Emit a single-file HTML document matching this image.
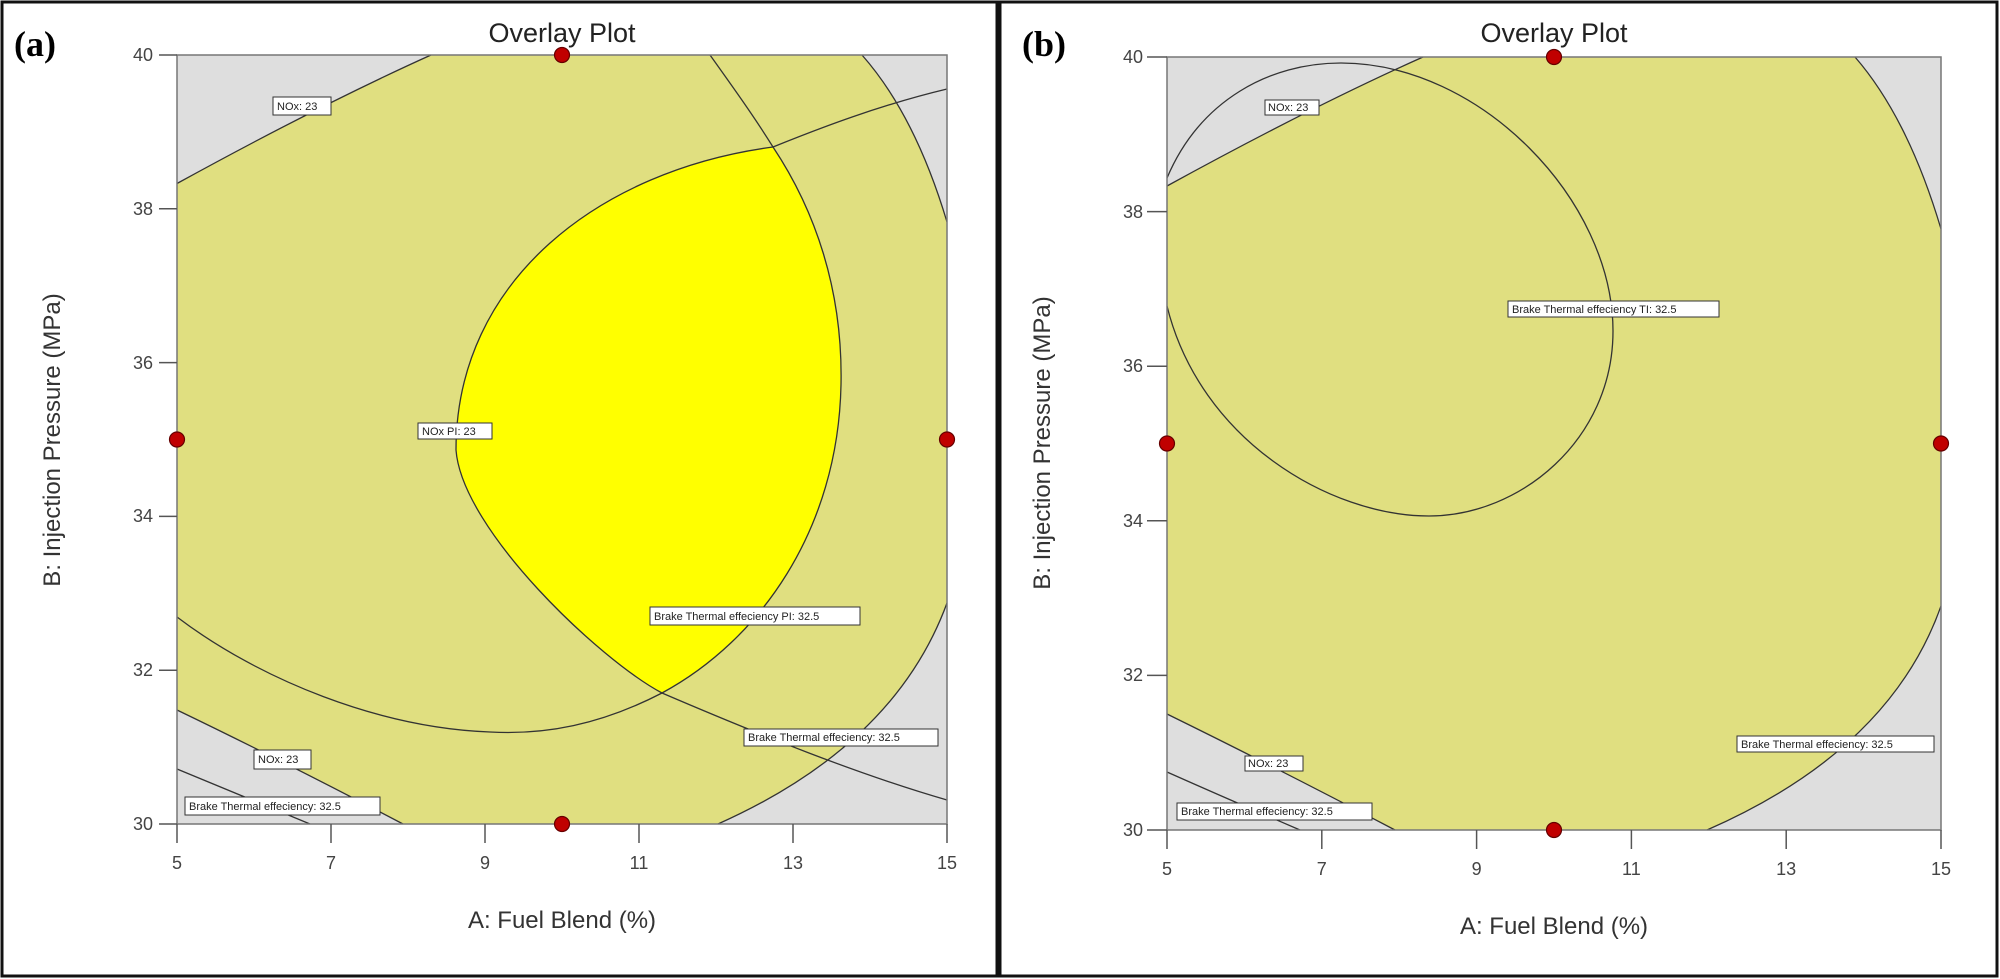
<!DOCTYPE html>
<html><head><meta charset="utf-8"><style>
html,body{margin:0;padding:0;background:#fff;}
svg{display:block;}
text{font-family:"Liberation Sans",sans-serif;}
.tk{font-size:18px;fill:#444;}
.lb{font-size:11px;fill:#222;}
.lbox{fill:#fff;stroke:#333;stroke-width:1;}
.cv{fill:none;stroke:#333;stroke-width:1.3;}
</style></head><body>
<svg width="2000" height="979" viewBox="0 0 2000 979" xmlns="http://www.w3.org/2000/svg">
<rect x="0" y="0" width="2000" height="979" fill="#fff"/>
<!-- frames -->
<rect x="2" y="2" width="995" height="974" fill="none" stroke="#111" stroke-width="3"/>
<rect x="1000" y="2" width="997" height="974" fill="none" stroke="#111" stroke-width="3"/>

<!-- ===== Panel A ===== -->
<text x="14" y="56" font-family="Liberation Serif,serif" font-weight="bold" font-size="36" style="font-family:'Liberation Serif',serif">(a)</text>
<text x="562" y="42" text-anchor="middle" font-size="27" fill="#222">Overlay Plot</text>
<rect x="177" y="55" width="770" height="769" fill="#e0df80"/>
<path d="M177,55 L431,55 Q320,105 177,183.5 Z" fill="#dedede"/>
<path d="M862,55 L947,55 L947,222 Q915,115 862,55 Z" fill="#dedede"/>
<path d="M947,603 L947,824 L718,824 Q895,745 947,603 Z" fill="#dedede"/>
<path d="M177,710 Q285,762 403,824 L177,824 Z" fill="#dedede"/>
<path d="M773,147 C600,170 456,280 456,450 C462,530 600,660 662,693 C760,640 838,530 841,385 C843,290 815,210 773,147 Z" fill="#ffff00"/>
<path class="cv" d="M431,55 Q320,105 177,183.5"/>
<path class="cv" d="M862,55 Q915,115 947,222"/>
<path class="cv" d="M947,603 Q895,745 718,824"/>
<path class="cv" d="M177,710 Q285,762 403,824"/>
<path class="cv" d="M177,769 Q240,795 310,824"/>
<path class="cv" d="M947,89 C880,105 820,128 773,147 C600,170 456,280 456,450 C462,530 600,660 662,693 C760,735 860,775 947,800"/>
<path class="cv" d="M710,55 C735,90 755,118 773,147 C815,210 843,290 841,385 C838,530 760,640 662,693 C600,725 545,735 490,732 C380,728 260,680 177,617"/>
<rect x="177" y="55" width="770" height="769" fill="none" stroke="#777" stroke-width="1.5"/>
<!-- ticks A -->
<g stroke="#555" stroke-width="1.5">
<line x1="159" y1="55" x2="177" y2="55"/><line x1="159" y1="208.8" x2="177" y2="208.8"/><line x1="159" y1="362.6" x2="177" y2="362.6"/><line x1="159" y1="516.4" x2="177" y2="516.4"/><line x1="159" y1="670.2" x2="177" y2="670.2"/><line x1="159" y1="824" x2="177" y2="824"/>
<line x1="177" y1="824" x2="177" y2="843"/><line x1="331" y1="824" x2="331" y2="843"/><line x1="485" y1="824" x2="485" y2="843"/><line x1="639" y1="824" x2="639" y2="843"/><line x1="793" y1="824" x2="793" y2="843"/><line x1="947" y1="824" x2="947" y2="843"/>
</g>
<g class="tk" text-anchor="end">
<text x="153" y="61">40</text><text x="153" y="215">38</text><text x="153" y="369">36</text><text x="153" y="522">34</text><text x="153" y="676">32</text><text x="153" y="830">30</text>
</g>
<g class="tk" text-anchor="middle">
<text x="177" y="869">5</text><text x="331" y="869">7</text><text x="485" y="869">9</text><text x="639" y="869">11</text><text x="793" y="869">13</text><text x="947" y="869">15</text>
</g>
<text x="562" y="928" text-anchor="middle" font-size="24" fill="#333">A: Fuel Blend (%)</text>
<text transform="translate(60,440) rotate(-90)" text-anchor="middle" font-size="24" fill="#333">B: Injection Pressure (MPa)</text>
<!-- labels A -->
<rect class="lbox" x="273" y="97" width="58" height="18"/><text class="lb" x="277" y="110">NOx: 23</text>
<rect class="lbox" x="418" y="423" width="74" height="16"/><text class="lb" x="422" y="435">NOx PI: 23</text>
<rect class="lbox" x="650" y="607" width="210" height="18"/><text class="lb" x="654" y="620">Brake Thermal effeciency PI: 32.5</text>
<rect class="lbox" x="744" y="729" width="194" height="17"/><text class="lb" x="748" y="741">Brake Thermal effeciency: 32.5</text>
<rect class="lbox" x="254" y="750" width="57" height="19"/><text class="lb" x="258" y="763">NOx: 23</text>
<rect class="lbox" x="185" y="797" width="195" height="18"/><text class="lb" x="189" y="810">Brake Thermal effeciency: 32.5</text>
<!-- dots A -->
<g fill="#c00000" stroke="#600" stroke-width="1.2">
<circle cx="562" cy="55" r="7.5"/><circle cx="177" cy="439.5" r="7.5"/><circle cx="562" cy="824" r="7.5"/><circle cx="947" cy="439.5" r="7.5"/>
</g>

<!-- ===== Panel B ===== -->
<text x="1022" y="56" font-weight="bold" font-size="36" style="font-family:'Liberation Serif',serif">(b)</text>
<text x="1554" y="42" text-anchor="middle" font-size="27" fill="#222">Overlay Plot</text>
<rect x="1167" y="57" width="774" height="773" fill="#e0df80"/>
<path d="M1167,57 L1423,57 Q1311,107 1167,186 Z" fill="#dedede"/>
<path d="M1855,57 L1941,57 L1941,229 Q1908,118 1855,57 Z" fill="#dedede"/>
<path d="M1941,606 L1941,830 L1707,830 Q1890,750 1941,606 Z" fill="#dedede"/>
<path d="M1167,714 Q1277,768 1395,830 L1167,830 Z" fill="#dedede"/>
<path class="cv" d="M1423,57 Q1311,107 1167,186"/>
<path class="cv" d="M1855,57 Q1908,118 1941,229"/>
<path class="cv" d="M1941,606 Q1890,750 1707,830"/>
<path class="cv" d="M1167,714 Q1277,768 1395,830"/>
<path class="cv" d="M1167,772 Q1230,800 1300,830"/>
<path class="cv" d="M1167,178 C1200,100 1270,63 1341,63 C1480,63 1613,200 1613,331 C1613,440 1520,516 1429,516 C1330,516 1200,440 1167,306"/>
<rect x="1167" y="57" width="774" height="773" fill="none" stroke="#777" stroke-width="1.5"/>
<g stroke="#555" stroke-width="1.5">
<line x1="1147" y1="57" x2="1167" y2="57"/><line x1="1147" y1="211.6" x2="1167" y2="211.6"/><line x1="1147" y1="366.2" x2="1167" y2="366.2"/><line x1="1147" y1="520.8" x2="1167" y2="520.8"/><line x1="1147" y1="675.4" x2="1167" y2="675.4"/><line x1="1147" y1="830" x2="1167" y2="830"/>
<line x1="1167" y1="830" x2="1167" y2="849"/><line x1="1321.8" y1="830" x2="1321.8" y2="849"/><line x1="1476.6" y1="830" x2="1476.6" y2="849"/><line x1="1631.4" y1="830" x2="1631.4" y2="849"/><line x1="1786.2" y1="830" x2="1786.2" y2="849"/><line x1="1941" y1="830" x2="1941" y2="849"/>
</g>
<g class="tk" text-anchor="end">
<text x="1143" y="63">40</text><text x="1143" y="218">38</text><text x="1143" y="372">36</text><text x="1143" y="527">34</text><text x="1143" y="681">32</text><text x="1143" y="836">30</text>
</g>
<g class="tk" text-anchor="middle">
<text x="1167" y="875">5</text><text x="1321.8" y="875">7</text><text x="1476.6" y="875">9</text><text x="1631.4" y="875">11</text><text x="1786.2" y="875">13</text><text x="1941" y="875">15</text>
</g>
<text x="1554" y="934" text-anchor="middle" font-size="24" fill="#333">A: Fuel Blend (%)</text>
<text transform="translate(1050,443) rotate(-90)" text-anchor="middle" font-size="24" fill="#333">B: Injection Pressure (MPa)</text>
<rect class="lbox" x="1265" y="100" width="54" height="15"/><text class="lb" x="1268" y="111">NOx: 23</text>
<rect class="lbox" x="1508" y="301" width="211" height="16"/><text class="lb" x="1512" y="313">Brake Thermal effeciency TI: 32.5</text>
<rect class="lbox" x="1737" y="736" width="197" height="16"/><text class="lb" x="1741" y="748">Brake Thermal effeciency: 32.5</text>
<rect class="lbox" x="1245" y="756" width="58" height="15"/><text class="lb" x="1248" y="767">NOx: 23</text>
<rect class="lbox" x="1177" y="803" width="195" height="17"/><text class="lb" x="1181" y="815">Brake Thermal effeciency: 32.5</text>
<g fill="#c00000" stroke="#600" stroke-width="1.2">
<circle cx="1554" cy="57" r="7.5"/><circle cx="1167" cy="443.5" r="7.5"/><circle cx="1554" cy="830" r="7.5"/><circle cx="1941" cy="443.5" r="7.5"/>
</g>
</svg>
</body></html>
